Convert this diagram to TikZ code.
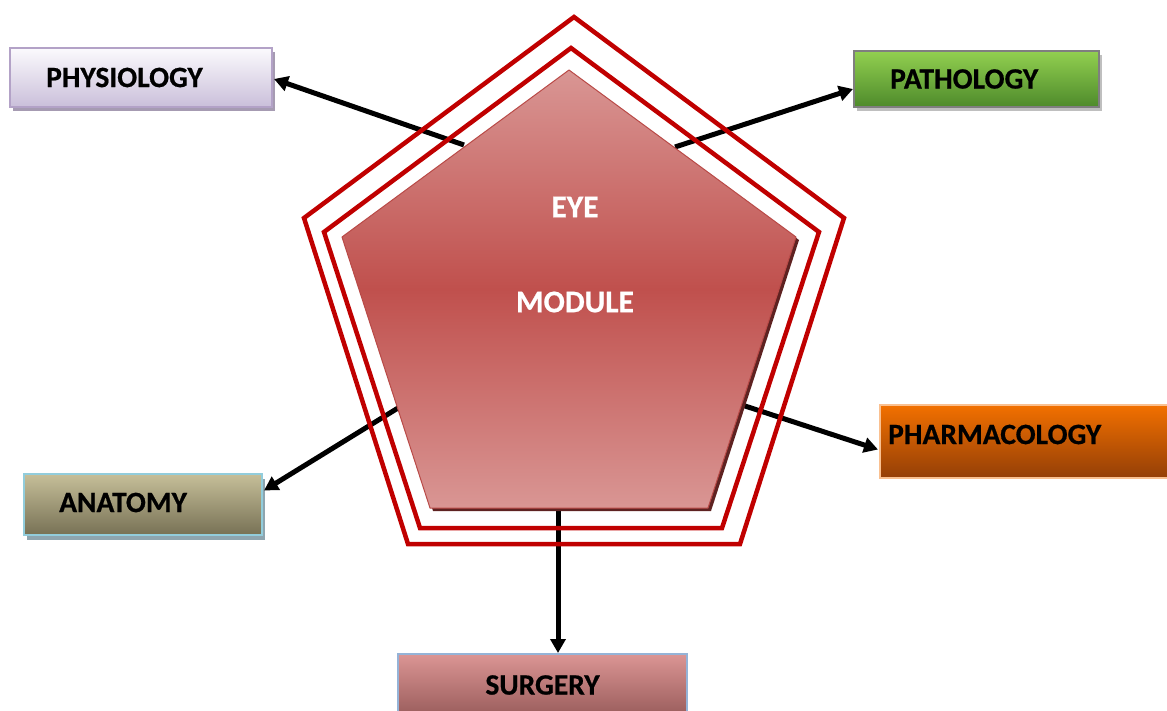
\documentclass[tikz,border=0pt]{standalone}
\usepackage{fontspec}
\setmainfont{Carlito}[BoldFeatures={FakeBold=0.6}]
\usetikzlibrary{arrows.meta,calc,shadows}

\definecolor{ringred}{HTML}{C00000}
\definecolor{penlight}{HTML}{D99694}
\definecolor{penmid}{HTML}{C0504D}
\definecolor{penedge}{HTML}{B94A47}
\definecolor{penshadow}{HTML}{5E2221}
% box colours
\definecolor{phystop}{HTML}{FBFAFD}
\definecolor{physbot}{HTML}{CABFDA}
\definecolor{physline}{HTML}{B3A2C7}
\definecolor{physshd}{HTML}{A69BB2}
\definecolor{pathtop}{HTML}{92D050}
\definecolor{pathbot}{HTML}{4E8A2B}
\definecolor{pathline}{HTML}{7F7F7F}
\definecolor{pathshd}{HTML}{BFBFBF}
\definecolor{pharmtop}{HTML}{F27000}
\definecolor{pharmbot}{HTML}{943F07}
\definecolor{pharmline}{HTML}{FAC090}
\definecolor{anattop}{HTML}{C6BF99}
\definecolor{anatbot}{HTML}{777155}
\definecolor{anatline}{HTML}{92CDDC}
\definecolor{anatshd}{HTML}{8EA5AF}
\definecolor{surgtop}{HTML}{DB9594}
\definecolor{surgbot}{HTML}{8C5150}
\definecolor{surgline}{HTML}{95B3D7}

\tikzset{
  box/.style={draw, line width=2pt, anchor=north west, inner sep=0pt},
  lbl/.style={font=\fontsize{29.5}{31}\selectfont\bfseries, text=black, inner sep=0pt},
  bigtxt/.style={font=\fontsize{31.5}{33}\selectfont\bfseries, text=white, inner sep=0pt},
  ring/.style={draw=ringred, line width=4.5pt, miter limit=10},
  conn/.style={draw=black, line width=5pt, -{Triangle[length=14pt,width=15pt]}},
}

\begin{document}
\begin{tikzpicture}[x=1pt,y=-1pt]
\useasboundingbox (0,0) rectangle (1167,710);
\clip (0,0) rectangle (1167,710);

% surrounding boxes
\node[box, draw=physline, top color=phystop, bottom color=physbot,
      minimum width=262pt, minimum height=59pt,
      drop shadow={shadow xshift=3pt, shadow yshift=-4pt, fill=physshd, opacity=1}]
      (phys) at (9,47) {};
\node[lbl, anchor=west] at ([xshift=37pt]phys.west) {PHYSIOLOGY};

\node[box, draw=pathline, top color=pathtop, bottom color=pathbot,
      minimum width=245pt, minimum height=56pt,
      drop shadow={shadow xshift=3pt, shadow yshift=-4pt, fill=pathshd, opacity=1}]
      (path) at (853,50) {};
\node[lbl, anchor=west] at ([xshift=37pt]path.west) {PATHOLOGY};

\node[box, draw=pharmline, top color=pharmtop, bottom color=pharmbot,
      minimum width=300pt, minimum height=73pt]
      (pharm) at (879,404) {};
\node[lbl, anchor=west] at ([xshift=9pt,yshift=7pt]pharm.west) {PHARMACOLOGY};

\node[box, draw=anatline, top color=anattop, bottom color=anatbot,
      minimum width=238pt, minimum height=61pt,
      drop shadow={shadow xshift=3pt, shadow yshift=-5pt, fill=anatshd, opacity=1}]
      (anat) at (23,473) {};
\node[lbl, anchor=west] at ([xshift=36pt,yshift=2pt]anat.west) {ANATOMY};

\node[box, draw=surgline, top color=surgtop, bottom color=surgbot,
      minimum width=289pt, minimum height=75pt]
      (surg) at (397,653) {};
\node[lbl] at ([yshift=-32pt]surg.north) {SURGERY};

% corners of the central pentagon
\coordinate (pT)  at (569,70);
\coordinate (pR)  at (796,237);
\coordinate (pBR) at (708,508);
\coordinate (pBL) at (430,508);
\coordinate (pL)  at (342,237);

% arrow tails on the pentagon edges
\coordinate (tPhys)  at (464,145);
\coordinate (tPath)  at (675,147);
\coordinate (tPharm) at (742,405);
\coordinate (tAnat)  at (398,408);
\coordinate (tSurg)  at (558,508);

% connectors
\draw[conn] (tPhys) -- ([xshift=1pt,yshift=-1.5pt]phys.east);
\draw[conn] (tPath) -- ([yshift=-10pt]path.west);
\draw[conn] (tPharm) -- ([xshift=-1pt,yshift=-8pt]pharm.west);
\draw[conn] (tAnat) -- ([xshift=1pt,yshift=14pt]anat.east);
\draw[conn] (tSurg) -- (tSurg |- surg.north);

% double red frame
\draw[ring] (574,17) -- (844,218) -- (740,544) -- (408,544) -- (304,218) -- cycle;
\draw[ring] (571,48) -- (819,232) -- (722,528) -- (420,528) -- (324,232) -- cycle;

% central pentagon with its shadow
\fill[penshadow] ($(pT)+(3,3)$) -- ($(pR)+(3,3)$) -- ($(pBR)+(3,3)$)
   -- ($(pBL)+(3,3)$) -- ($(pL)+(3,3)$) -- cycle;
\shade[top color=penlight, bottom color=penlight, middle color=penmid]
   (pT) -- (pR) -- (pBR) -- (pBL) -- (pL) -- cycle;
\draw[penedge, line width=1pt, line join=round]
   (pT) -- (pR) -- (pBR) -- (pBL) -- (pL) -- cycle;

\node[bigtxt] (eye) at (575,207) {EYE};
\node[bigtxt] (module) at (575,302) {MODULE};
\end{tikzpicture}
\end{document}
